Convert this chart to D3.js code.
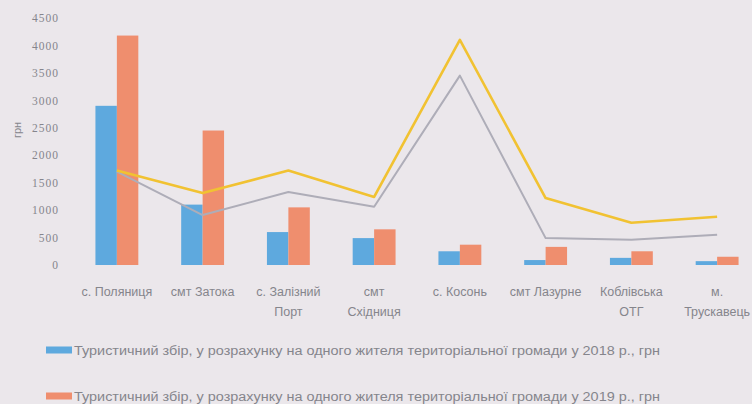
<!DOCTYPE html>
<html><head><meta charset="utf-8">
<script src="https://cdn.jsdelivr.net/npm/d3@7"></script>
<style>
html,body{margin:0;padding:0;background:#ebe7eb;}
svg{display:block;}
text{font-family:"Liberation Sans",Arial,sans-serif;fill:#85858c;}
</style></head>
<body>
<script>
const categories = ["с. Поляниця","смт Затока","с. Залізний\nПорт","смт\nСхідниця","с. Косонь","смт Лазурне","Коблівська\nОТГ","м.\nТрускавець"];
const tax2018 = [2900, 1100, 600, 490, 250, 90, 130, 70];
const tax2019 = [4180, 2450, 1050, 650, 370, 330, 250, 150];
const series3 = [1720, 1310, 1720, 1240, 4100, 1220, 770, 880];
const series4 = [1700, 910, 1330, 1060, 3450, 490, 460, 550];
const yTicks = [0,500,1000,1500,2000,2500,3000,3500,4000,4500];
const yLabel = "грн";
const legendLabels = [
  "Туристичний збір, у розрахунку на одного жителя територіальної громади у 2018 р., грн",
  "Туристичний збір, у розрахунку на одного жителя територіальної громади у 2019 р., грн"
];
const colors = {b2018:"#5ea9de", b2019:"#ef8e6e", yellow:"#f1c232", grey:"#aeadb8"};

const W=752,H=404;
const svg=d3.select("body").append("svg").attr("width",W).attr("height",H);

const y=d3.scaleLinear().domain([0,4500]).range([265,18]);
const x=d3.scaleBand().domain(categories).range([74,760]).paddingInner(0.5).paddingOuter(0.25);
const xs=d3.scaleBand().domain(["2018","2019"]).range([0,x.bandwidth()]);

// y axis
const yAxis=d3.axisLeft(y).tickValues(yTicks).tickSize(0).tickPadding(0).tickFormat(d3.format("d"));
const ga=svg.append("g").attr("transform","translate(59,0)").call(yAxis);
ga.select(".domain").remove();
ga.selectAll("text").style("font-size","11.5px").style("letter-spacing","1px").attr("fill","#85858c").style("font-family","'Liberation Serif',serif");

svg.append("text").attr("transform","translate(21,130) rotate(-90)").attr("text-anchor","middle")
  .style("font-size","11px").text(yLabel);

// bars
const data=categories.map((c,i)=>({c,v18:tax2018[i],v19:tax2019[i]}));
const g=svg.append("g");
g.selectAll("rect.b18").data(data).enter().append("rect")
  .attr("x",d=>x(d.c)+xs("2018")).attr("width",xs.bandwidth())
  .attr("y",d=>y(d.v18)).attr("height",d=>y(0)-y(d.v18)).attr("fill",colors.b2018);
g.selectAll("rect.b19").data(data).enter().append("rect")
  .attr("x",d=>x(d.c)+xs("2019")).attr("width",xs.bandwidth())
  .attr("y",d=>y(d.v19)).attr("height",d=>y(0)-y(d.v19)).attr("fill",colors.b2019);

// lines
const line=d3.line().x((d,i)=>x(categories[i])+x.bandwidth()/2).y(d=>y(d));
svg.append("path").datum(series4).attr("d",line).attr("fill","none").attr("stroke",colors.grey).attr("stroke-width",2).attr("stroke-linejoin","round");
svg.append("path").datum(series3).attr("d",line).attr("fill","none").attr("stroke",colors.yellow).attr("stroke-width",2.6).attr("stroke-linejoin","round");

// x labels
const xl=svg.append("g");
categories.forEach(c=>{
  const lines=c.split("\n");
  const t=xl.append("text").attr("text-anchor","middle").style("font-size","12.5px")
    .attr("x",x(c)+x.bandwidth()/2).attr("y",296);
  lines.forEach((ln,j)=>t.append("tspan").attr("x",x(c)+x.bandwidth()/2).attr("dy",j?20:0).text(ln));
});

// legend
const lg=svg.append("g");
[colors.b2018,colors.b2019].forEach((col,i)=>{
  const cy=350+i*46;
  lg.append("rect").attr("x",46).attr("y",cy-3.5).attr("width",26).attr("height",7).attr("fill",col);
  lg.append("text").attr("x",74).attr("y",cy+4.5).style("font-size","12.5px")
    .attr("textLength",586).attr("lengthAdjust","spacingAndGlyphs").text(legendLabels[i]);
});
</script>
</body></html>
